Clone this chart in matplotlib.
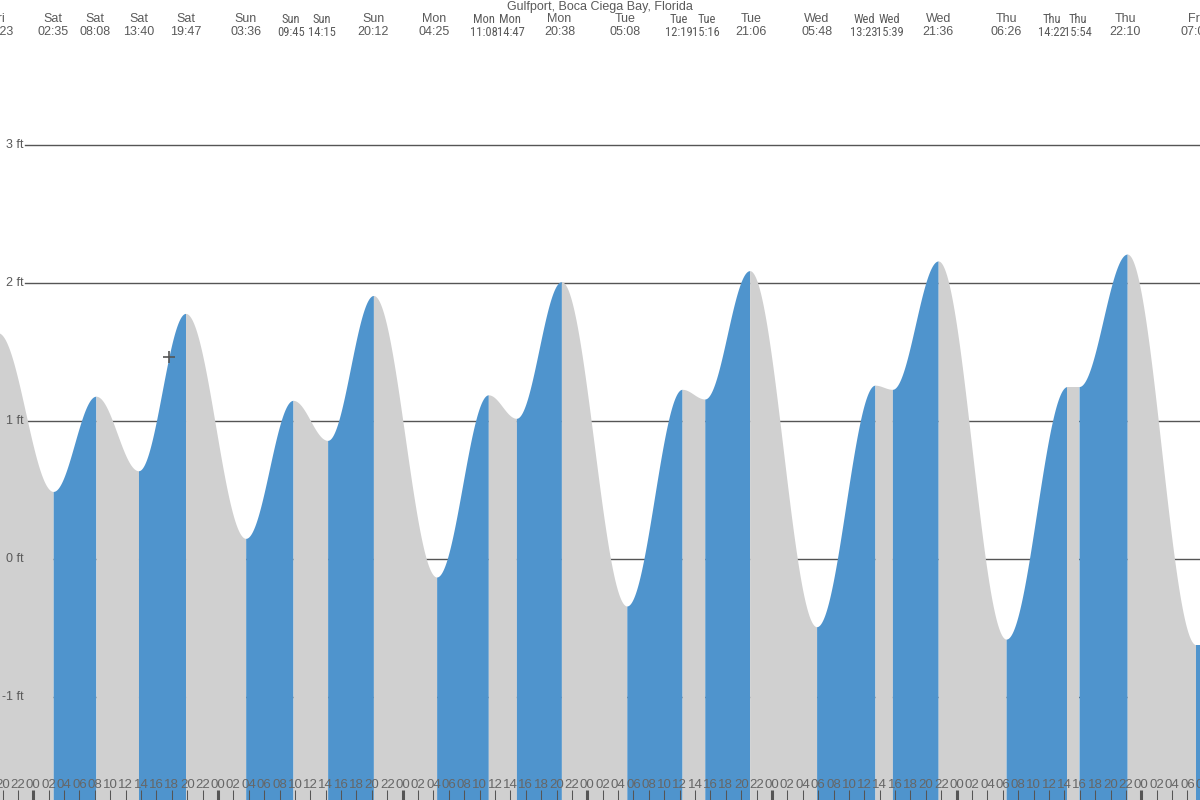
import numpy as np
import matplotlib
matplotlib.use("Agg")
import matplotlib.pyplot as plt
from matplotlib import font_manager

plt.rcParams['font.family'] = ['Liberation Sans', 'DejaVu Sans']

title = "Gulfport, Boca Ciega Bay, Florida"

# Tide extremes: day index (Sat = 0), day name, time, height (ft)
ext_day = [-1, 0, 0, 0, 0, 1, 1, 1, 1, 2, 2, 2, 2, 3, 3, 3, 3, 4, 4, 4, 4, 5, 5, 5, 5, 6]
ext_name = ["Fri", "Sat", "Sat", "Sat", "Sat", "Sun", "Sun", "Sun", "Sun",
            "Mon", "Mon", "Mon", "Mon", "Tue", "Tue", "Tue", "Tue",
            "Wed", "Wed", "Wed", "Wed", "Thu", "Thu", "Thu", "Thu", "Fri"]
ext_time = ["19:23", "02:35", "08:08", "13:40", "19:47", "03:36", "09:45", "14:15", "20:12",
            "04:25", "11:08", "14:47", "20:38", "05:08", "12:19", "15:16", "21:06",
            "05:48", "13:23", "15:39", "21:36", "06:26", "14:22", "15:54", "22:10", "07:05"]
ext_height = [1.64, 0.49, 1.18, 0.64, 1.78, 0.15, 1.15, 0.86, 1.91,
              -0.13, 1.19, 1.02, 2.01, -0.34, 1.23, 1.16, 2.09,
              -0.49, 1.26, 1.23, 2.16, -0.58, 1.25, 1.25, 2.21, -0.62]

y_ticks = [-1, 0, 1, 2, 3]
y_tick_labels = ["-1 ft", "0 ft", "1 ft", "2 ft", "3 ft"]

# layout: horizontal nudges (pixels) of the top labels, and which ones are squeezed
label_nudge_px = [0, 0, -1, 0, 0, 0, -2, -6, 0, -2, -4, -6, -2,
                  -2, -3, 1.5, 1, 0, -11, -3, 0, 0, -15, -1, -2, 0]
label_narrow = [0, 0, 0, 0, 0, 0, 1, 1, 0, 0, 1, 1, 0,
                0, 1, 1, 0, 0, 1, 1, 0, 0, 1, 1, 0, 0]

BLUE = "#4f94cd"
GREY = "#d0d0d0"
TXT = "#5a5a5a"

ttf = font_manager.fontManager.ttflist
names = {f.name for f in ttf}
narrow_kw = None
for cand in ['Liberation Sans Narrow', 'Arial Narrow', 'Roboto Condensed',
             'Open Sans Condensed', 'DejaVu Sans Condensed']:
    if cand in names:
        narrow_kw = dict(family=[cand, 'DejaVu Sans'], fontsize=9)
        break
if narrow_kw is None:
    narrow_kw = dict(family=['Liberation Sans', 'DejaVu Sans'], fontsize=8)
normal_kw = dict(family=['Liberation Sans', 'DejaVu Sans'], fontsize=9)

hours = np.array([d * 24 + int(t[:2]) + int(t[3:]) / 60 for d, t in zip(ext_day, ext_time)])
heights = np.array(ext_height)

XMIN, XMAX = -4.33, 151.63
YMIN, YMAX = -1.746, 4.051
xpx = (XMAX - XMIN) / 1200
ypx = (YMAX - YMIN) / 800

fig = plt.figure(figsize=(12, 8), dpi=100)
ax = fig.add_axes([0, 0, 1, 1])
ax.set_xlim(XMIN, XMAX)
ax.set_ylim(YMIN, YMAX)
ax.axis('off')

# gridlines
for yv, lab in zip(y_ticks, y_tick_labels):
    ax.plot([XMIN + 25 * xpx, XMAX], [yv, yv], color="#555555", lw=1, zorder=1)
    ax.text(XMIN + 23.5 * xpx, yv, lab, ha='right', va='center',
            fontsize=9, color=TXT, zorder=5)

# tide curve segments (rising = blue, falling = grey)
for i in range(len(hours) - 1):
    t1, t2 = hours[i], hours[i + 1]
    h1, h2 = heights[i], heights[i + 1]
    t = np.linspace(t1, t2, 200)
    h = h1 + (h2 - h1) * (1 - np.cos(np.pi * (t - t1) / (t2 - t1))) / 2
    col = BLUE if h2 > h1 else GREY
    ax.fill_between(t, YMIN, h, color=col, lw=0, zorder=2)
ax.fill_between([hours[-1], XMAX], YMIN, heights[-1], color=BLUE, lw=0, zorder=2)

# cursor cross seen in the reference
ax.plot([17.64], [1.464], marker='+', markersize=9, color="#555555", mew=1.2, zorder=4)

# top labels
ax.text(0.5, 1 - 7 / 800, title, transform=ax.transAxes, ha='center', va='center',
        fontsize=9, color=TXT)
for hr, nm, tm, nd, nw in zip(hours, ext_name, ext_time, label_nudge_px, label_narrow):
    xl = hr + nd * xpx
    kw = narrow_kw if nw else normal_kw
    ax.text(xl, YMAX - 19 * ypx, nm, ha='center', va='center', color=TXT, zorder=5, **kw)
    ax.text(xl, YMAX - 32 * ypx, tm, ha='center', va='center', color=TXT, zorder=5, **kw)

# bottom hour labels and ticks
for hh in range(-4, 153, 2):
    ax.text(hh, YMIN + 15 * ypx, f"{hh % 24:02d}", ha='center', va='center',
            fontsize=9.5, color="#666666", zorder=5)
    lw = 2.2 if hh % 24 == 0 else 0.75
    ax.plot([hh, hh], [YMIN, YMIN + 10 * ypx], color="#555555", lw=lw,
            solid_capstyle='butt', zorder=5)

fig.savefig("out.png", dpi=100)
